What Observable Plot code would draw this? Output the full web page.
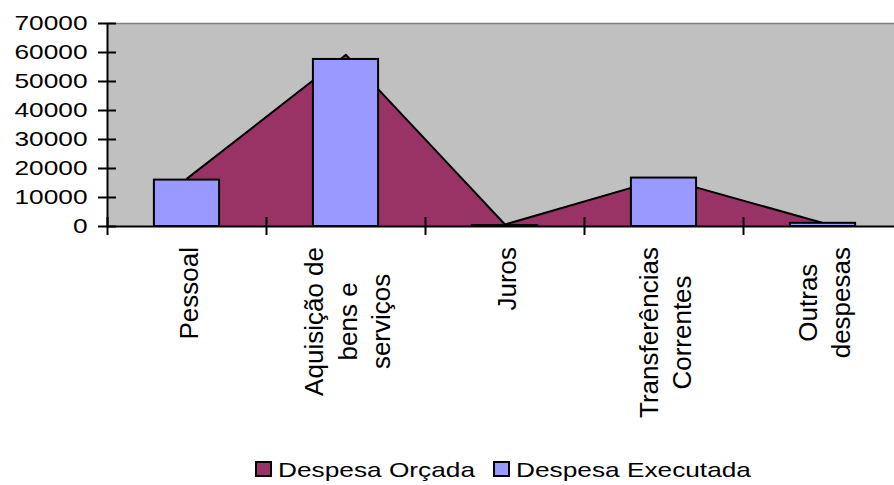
<!DOCTYPE html>
<html><head><meta charset="utf-8">
<script src="https://cdn.jsdelivr.net/npm/d3@7"></script>
<script src="https://cdn.jsdelivr.net/npm/@observablehq/plot@0.6"></script>
<style>
html,body{margin:0;padding:0;overflow:hidden;background:#fff;width:894px;height:485px;position:relative}
#chart{position:absolute;left:0;top:0;width:903px}
#chart svg{max-width:none !important;width:903px;height:440px}
.leg{position:absolute;font-family:"Liberation Sans",Arial,sans-serif;font-size:21px;line-height:21px;color:#000;white-space:nowrap;transform:scaleX(1.25);transform-origin:0 0}
.sw{position:absolute;box-sizing:border-box;border:2px solid #000;width:17px;height:16px}
</style></head><body>
<div id="chart"></div>
<div id="legend"></div>
<script>
const categories = ["Pessoal", "Aquisição de\nbens e\nserviços", "Juros", "Transferências\nCorrentes", "Outras\ndespesas"];
const despesaOrcada = [16500, 59200, 700, 16600, 1200];
const despesaExecutada = [16000, 57600, 300, 16700, 1100];
const yTicks = [0, 10000, 20000, 30000, 40000, 50000, 60000, 70000];
const seriesNames = ["Despesa Orçada", "Despesa Executada"];
const seriesColors = ["#993366", "#9999FF"];

const data = categories.map((c, i) => ({i, cat: c, orc: despesaOrcada[i], exe: despesaExecutada[i]}));
const idx = data.map(d => d.i);
const bounds = [-0.5, ...idx.map(i => i + 0.5)];
const halfBar = 0.205;

const plot = Plot.plot({
  width: 903, height: 440,
  marginLeft: 107, marginRight: 1, marginTop: 23, marginBottom: 214,
  style: {fontFamily: "Liberation Sans, Arial, sans-serif", background: "transparent", overflow: "visible", color: "#000", maxWidth: "none"},
  x: {type: "linear", domain: [-0.5, categories.length - 0.5], label: null},
  y: {domain: [0, 70000], label: null},
  marks: [
    Plot.frame({fill: "#C0C0C0"}),
    Plot.ruleY([70000], {stroke: "#808080", strokeWidth: 1.5}),
    Plot.areaY(data, {x: "i", y: "orc", fill: seriesColors[0]}),
    Plot.lineY(data, {x: "i", y: "orc", stroke: "#000", strokeWidth: 2}),
    Plot.rectY(data, {x1: d => d.i - halfBar, x2: d => d.i + halfBar, y: "exe", fill: seriesColors[1], stroke: "#000", strokeWidth: 2}),
    Plot.ruleX([-0.5], {stroke: "#000", strokeWidth: 2}),
    Plot.ruleY([0], {stroke: "#000", strokeWidth: 2}),
    Plot.axisY({ticks: yTicks, tickSize: 18, dx: 9, tickFormat: () => "", strokeWidth: 2, label: null}),
    Plot.axisY({ticks: yTicks, tickSize: 0, tickPadding: 20, tickFormat: d => String(d), fontSize: 21, label: null}),
    Plot.axisX({ticks: bounds, tickSize: 18, dy: -9, tickFormat: () => "", strokeWidth: 2, label: null}),
    Plot.axisX({ticks: idx, tickSize: 0, tickPadding: 0, tickFormat: i => categories[i], tickRotate: -90,
      textAnchor: "middle", lineAnchor: "middle", lineHeight: 1.28, fontSize: 26, label: null})
  ]
});
document.getElementById("chart").append(plot);

const svgRect = plot.getBoundingClientRect();
plot.querySelectorAll('g[aria-label="x-axis tick label"] text').forEach(t => {
  const r = t.getBoundingClientRect();
  if (r.height === 0) return;
  const shift = 247 - (r.top - svgRect.top);
  t.setAttribute("transform", `translate(0,${shift}) ` + (t.getAttribute("transform") || ""));
});
plot.querySelectorAll('g[aria-label="y-axis tick label"] text').forEach(t => {
  const L = t.getComputedTextLength();
  if (L > 0) {
    t.setAttribute("textLength", L * 1.25);
    t.setAttribute("lengthAdjust", "spacingAndGlyphs");
  }
});

// legend
const legend = document.getElementById("legend");
const swLeft = [255, 493];
seriesNames.forEach((name, k) => {
  const sw = document.createElement("div");
  sw.className = "sw";
  sw.style.left = swLeft[k] + "px";
  sw.style.top = "461px";
  sw.style.background = seriesColors[k];
  legend.append(sw);
  const tx = document.createElement("div");
  tx.className = "leg";
  tx.style.left = (swLeft[k] + 23) + "px";
  tx.style.top = "459px";
  tx.textContent = name;
  legend.append(tx);
});
</script>
</body></html>
